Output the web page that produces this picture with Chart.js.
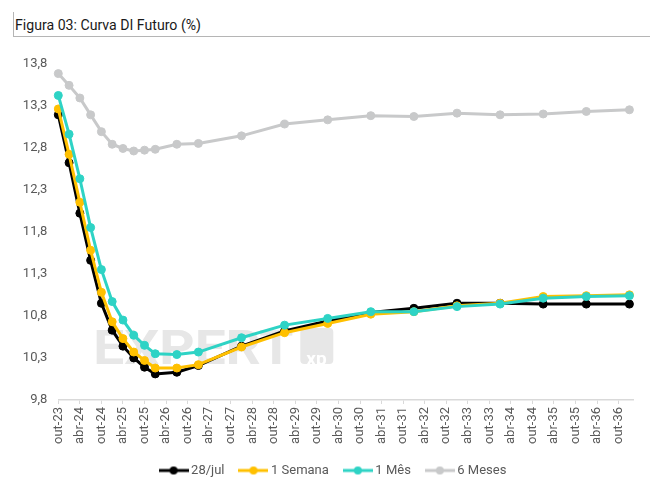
<!DOCTYPE html>
<html>
<head>
<meta charset="utf-8">
<script src="https://cdn.jsdelivr.net/npm/chart.js@4.4.1/dist/chart.umd.min.js"></script>
<style>
  html, body { margin: 0; padding: 0; background: #fff; }
  #wrap { position: relative; width: 671px; height: 493px; overflow: hidden; }
  #titleBox { position: absolute; left: 13px; top: 12px; width: 636px; height: 24px;
    border-left: 1px solid #b5b5b5; border-bottom: 1.5px solid #b5b5b5; }
  #title { position: absolute; left: 1px; top: 4px; font-family: Roboto, sans-serif; font-size: 15px;
    color: #1a1a1a; white-space: nowrap; transform-origin: 0 0; }
  canvas { position: absolute; left: 0; top: 0; }
</style>
</head>
<body>
<div id="wrap">
  <div id="titleBox"><span id="title">Figura 03: Curva DI Futuro (%)</span></div>
  <canvas id="c" width="671" height="493"></canvas>
</div>
<script>
// ---- data ----
const months = [0, 3, 6, 9, 12, 15, 18, 21, 24, 27, 33, 39, 51, 63, 75, 87, 99, 111, 123, 135, 147, 159];
const xTickLabels = ['out-23','abr-24','out-24','abr-25','out-25','abr-26','out-26','abr-27','out-27','abr-28','out-28','abr-29','out-29','abr-30','out-30','abr-31','out-31','abr-32','out-32','abr-33','out-33','abr-34','out-34','abr-35','out-35','abr-36','out-36'];
const yTicks = [9.8, 10.3, 10.8, 11.3, 11.8, 12.3, 12.8, 13.3, 13.8];
const seriesNames = ['28/jul', '1 Semana', '1 Mês', '6 Meses'];
const jul28 = [13.19, 12.62, 12.02, 11.46, 10.95, 10.63, 10.44, 10.30, 10.19, 10.11, 10.13, 10.21, 10.44, 10.62, 10.74, 10.84, 10.89, 10.95, 10.95, 10.94, 10.94, 10.94];
const semana1 = [13.26, 12.72, 12.15, 11.58, 11.08, 10.73, 10.53, 10.37, 10.27, 10.18, 10.18, 10.22, 10.43, 10.60, 10.71, 10.82, 10.85, 10.92, 10.95, 11.03, 11.04, 11.05];
const mes1 = [13.42, 12.96, 12.43, 11.85, 11.35, 10.97, 10.75, 10.57, 10.45, 10.35, 10.34, 10.37, 10.54, 10.69, 10.77, 10.85, 10.85, 10.91, 10.94, 11.01, 11.03, 11.04];
const meses6 = [13.68, 13.54, 13.39, 13.19, 12.99, 12.84, 12.79, 12.76, 12.77, 12.78, 12.84, 12.85, 12.94, 13.08, 13.13, 13.18, 13.17, 13.21, 13.19, 13.20, 13.23, 13.25];

// ---- title width fit ----
(function(){
  const t = document.getElementById('title');
  const w = t.getBoundingClientRect().width;
  if (w > 0) t.style.transform = 'scaleX(' + (186 / w) + ')';
})();

const colors = ['#000000', '#FFC000', '#2ED3C5', '#C8C9CA'];
const seriesData = [jul28, semana1, mes1, meses6];
const drawOrder = [2, 1, 0, 3];

function legendImg(color) {
  const c = document.createElement('canvas');
  c.width = 30; c.height = 10;
  const g = c.getContext('2d');
  g.strokeStyle = color; g.lineWidth = 3;
  g.beginPath(); g.moveTo(0, 5); g.lineTo(30, 5); g.stroke();
  g.fillStyle = color;
  g.beginPath(); g.arc(15, 5, 4, 0, Math.PI * 2); g.fill();
  return c;
}
const legendImgs = colors.map(legendImg);

const datasets = seriesNames.map((name, i) => ({
  label: name,
  data: months.map((m, j) => ({ x: m, y: seriesData[i][j] })),
  borderColor: colors[i],
  backgroundColor: colors[i],
  borderWidth: 3,
  pointRadius: 4,
  pointBorderWidth: 1,
  pointHoverRadius: 4,
  tension: 0,
  clip: false,
  order: drawOrder[i]
}));

const watermark = {
  id: 'watermark',
  afterLayout(chart) {
    if (chart.legend) { chart.legend.left += 36; }
  },
  beforeDatasetsDraw(chart) {
    const ctx = chart.ctx, a = chart.chartArea;
    ctx.save();
    ctx.fillStyle = '#e7e7e7';
    ctx.font = 'bold 48px Roboto, sans-serif';
    const w = ctx.measureText('EXPERT').width;
    ctx.translate(a.left + 35, a.bottom - 36);
    ctx.scale(200 / w, 1);
    ctx.textBaseline = 'alphabetic';
    ctx.fillText('EXPERT', 0, 0);
    ctx.restore();
    ctx.save();
    ctx.fillStyle = '#e7e7e7';
    const rx = a.left + 242, ry = a.bottom - 72;
    ctx.beginPath();
    if (ctx.roundRect) ctx.roundRect(rx, ry, 33, 36, 4); else ctx.rect(rx, ry, 33, 36);
    ctx.fill();
    ctx.fillStyle = '#ffffff';
    ctx.font = 'bold 19px Roboto, sans-serif';
    ctx.fillText('xp', rx + 6, ry + 32);
    ctx.restore();
  }
};

new Chart(document.getElementById('c'), {
  type: 'line',
  data: { datasets },
  plugins: [watermark],
  options: {
    responsive: false,
    animation: false,
    devicePixelRatio: 1,
    layout: { padding: { top: 63.5, right: 38, bottom: 6, left: 0 } },
    plugins: {
      tooltip: { enabled: false },
      legend: {
        position: 'bottom',
        labels: {
          usePointStyle: true,
          pointStyleWidth: 22,
          padding: 18,
          color: '#595959',
          font: { family: 'Roboto, sans-serif', size: 13 },
          sort: (a, b) => a.datasetIndex - b.datasetIndex,
          generateLabels(chart) {
            const items = Chart.defaults.plugins.legend.labels.generateLabels(chart);
            items.forEach(it => { it.pointStyle = legendImgs[it.datasetIndex]; });
            items.sort((a, b) => a.datasetIndex - b.datasetIndex);
            return items;
          }
        }
      }
    },
    scales: {
      x: {
        type: 'linear',
        min: 0,
        max: 160,
        afterBuildTicks(scale) { scale.ticks = xTickLabels.map((l, i) => ({ value: i * 6 })); },
        afterFit(scale) { scale.height = 46; },
        grid: { display: true, drawOnChartArea: false, drawTicks: true, tickLength: 4, color: '#d9d9d9' },
        border: { display: true, color: '#d9d9d9', width: 1.5 },
        ticks: {
          autoSkip: false,
          minRotation: 90,
          maxRotation: 90,
          padding: 3,
          color: '#595959',
          font: { family: 'Roboto, sans-serif', size: 13 },
          callback: (v, i) => xTickLabels[i]
        }
      },
      y: {
        min: 9.8,
        max: 13.8,
        afterBuildTicks(scale) { scale.ticks = yTicks.map(v => ({ value: v })); },
        afterFit(scale) { scale.width = 58.3; },
        grid: { display: false, drawTicks: false },
        border: { display: false },
        ticks: {
          padding: 11,
          color: '#595959',
          font: { family: 'Roboto, sans-serif', size: 13 },
          callback: v => Number(v).toFixed(1).replace('.', ',')
        }
      }
    }
  }
});
</script>
</body>
</html>
